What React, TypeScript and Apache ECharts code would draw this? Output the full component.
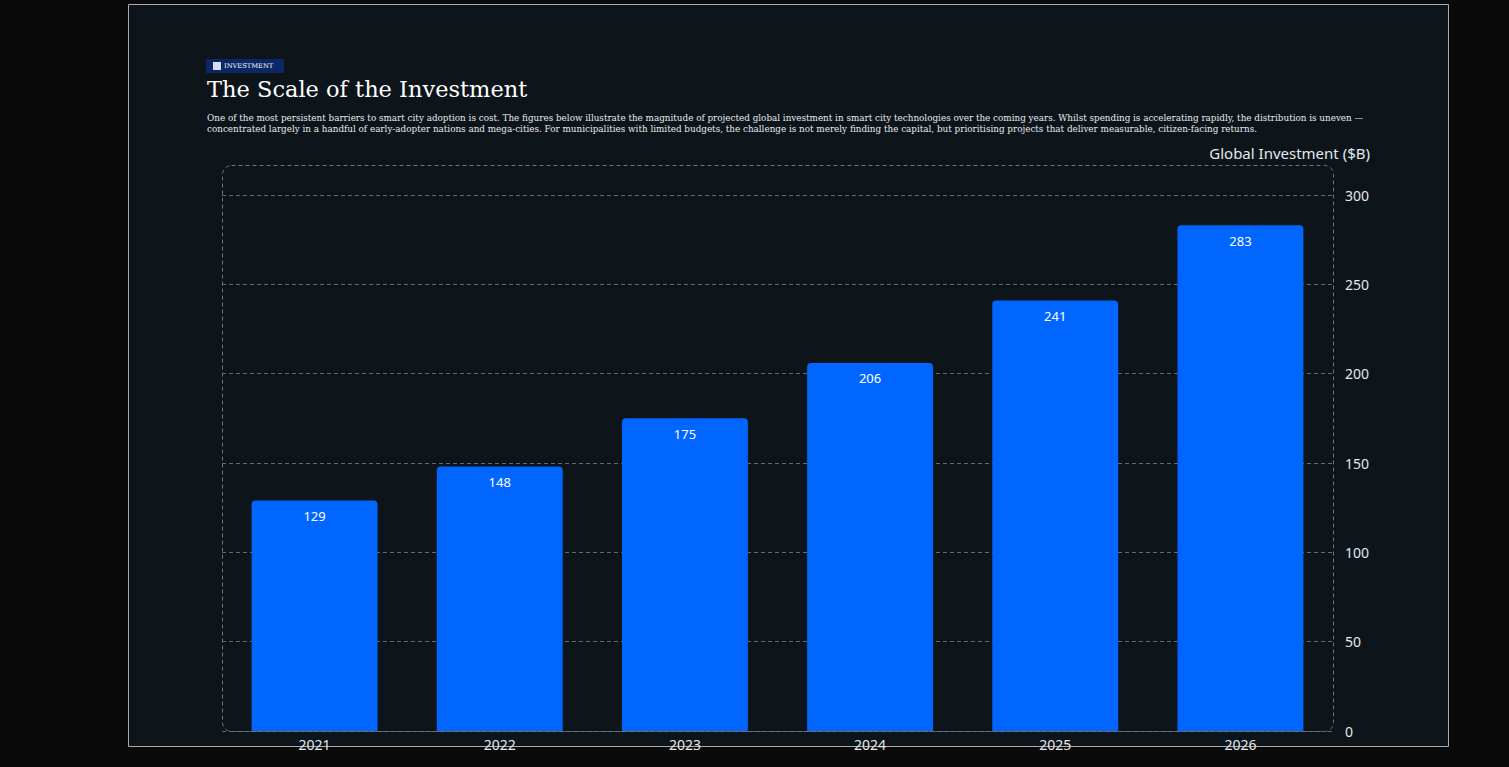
import React, { useEffect, useRef } from "react";
import * as echarts from "echarts";

const categories = ["2021", "2022", "2023", "2024", "2025", "2026"];
const investment = [129, 148, 175, 206, 241, 283];
const yTicks = { min: 0, max: 300, interval: 50 };

const tagText = "INVESTMENT";
const titleText = "The Scale of the Investment";
const subtitleLines = [
  "One of the most persistent barriers to smart city adoption is cost. The figures below illustrate the magnitude of projected global investment in smart city technologies over the coming years. Whilst spending is accelerating rapidly, the distribution is uneven \u2014",
  "concentrated largely in a handful of early-adopter nations and mega-cities. For municipalities with limited budgets, the challenge is not merely finding the capital, but prioritising projects that deliver measurable, citizen-facing returns.",
];
const axisName = "Global Investment ($B)";

const W = 1509;
const H = 767;

export default function App() {
  const ref = useRef<HTMLDivElement>(null);

  useEffect(() => {
    document.body.style.margin = "0";
    document.body.style.background = "#0a0a0a";
    if (!ref.current) return;
    const chart = echarts.init(ref.current, null, { renderer: "svg", width: W, height: H });
    const serif = "'DejaVu Serif', 'Liberation Serif', serif";
    const sans = "'Noto Sans', 'Open Sans', sans-serif";

    chart.setOption({
      animation: false,
      backgroundColor: "#0a0a0a",
      grid: { left: 222, right: 176, top: 195, bottom: 36, containLabel: false },
      xAxis: {
        type: "category",
        data: categories,
        axisLine: { show: false },
        axisTick: { show: false },
        axisLabel: { color: "#e4e8ec", fontFamily: sans, fontSize: 14, margin: 6 },
      },
      yAxis: {
        type: "value",
        position: "right",
        min: yTicks.min,
        max: yTicks.max,
        interval: yTicks.interval,
        axisLine: { show: false },
        axisTick: { show: false },
        axisLabel: { color: "#e4e8ec", fontFamily: sans, fontSize: 14, margin: 12 },
        splitLine: {
          show: true,
          lineStyle: { color: "#5f6a73", type: [4, 3], width: 1 },
        },
      },
      series: [
        {
          type: "bar",
          data: investment,
          barWidth: "68%",
          itemStyle: { color: "#0066ff", borderRadius: [4, 4, 0, 0] },
          label: {
            show: true,
            position: "insideTop",
            distance: 9,
            color: "#ffffff",
            fontFamily: sans,
            fontSize: 13,
          },
          z: 3,
        },
      ],
      graphic: [
        {
          type: "rect",
          z: -10,
          silent: true,
          shape: { x: 128.5, y: 4.5, width: 1320, height: 742 },
          style: { fill: "#0d151b", stroke: "#a8acb0", lineWidth: 1 },
        },
        {
          type: "rect",
          z: 1,
          silent: true,
          shape: { x: 222.5, y: 165.5, width: 1111, height: 566, r: 9 },
          style: { fill: "none", stroke: "#6a757e", lineWidth: 1, lineDash: [4, 3] },
        },
        {
          type: "rect",
          z: 5,
          silent: true,
          shape: { x: 206, y: 59, width: 78, height: 14 },
          style: { fill: "#0b2766" },
        },
        {
          type: "rect",
          z: 6,
          silent: true,
          shape: { x: 213, y: 62, width: 8, height: 8 },
          style: { fill: "#d3def2" },
        },
        {
          type: "text",
          z: 6,
          silent: true,
          x: 224,
          y: 66,
          style: {
            text: tagText,
            fill: "#ffffff",
            font: `6.7px ${serif}`,
            verticalAlign: "middle",
          },
        },
        {
          type: "text",
          z: 6,
          silent: true,
          x: 207,
          y: 89,
          style: {
            text: titleText,
            fill: "#ffffff",
            font: `22.5px ${serif}`,
            verticalAlign: "middle",
          },
        },
        {
          type: "text",
          z: 6,
          silent: true,
          x: 207,
          y: 118,
          style: {
            text: subtitleLines[0],
            fill: "#e8eaec",
            font: `8.8px ${serif}`,
            verticalAlign: "middle",
          },
        },
        {
          type: "text",
          z: 6,
          silent: true,
          x: 207,
          y: 129,
          style: {
            text: subtitleLines[1],
            fill: "#e8eaec",
            font: `8.8px ${serif}`,
            verticalAlign: "middle",
          },
        },
        {
          type: "text",
          z: 6,
          silent: true,
          x: 1370,
          y: 153,
          style: {
            text: axisName,
            fill: "#e4e8ec",
            font: `15px ${sans}`,
            align: "right",
            verticalAlign: "middle",
          },
        },
      ],
    });

    return () => chart.dispose();
  }, []);

  return (
    <div
      ref={ref}
      style={{ position: "fixed", left: 0, top: 0, width: W, height: H, background: "#0a0a0a" }}
    />
  );
}
